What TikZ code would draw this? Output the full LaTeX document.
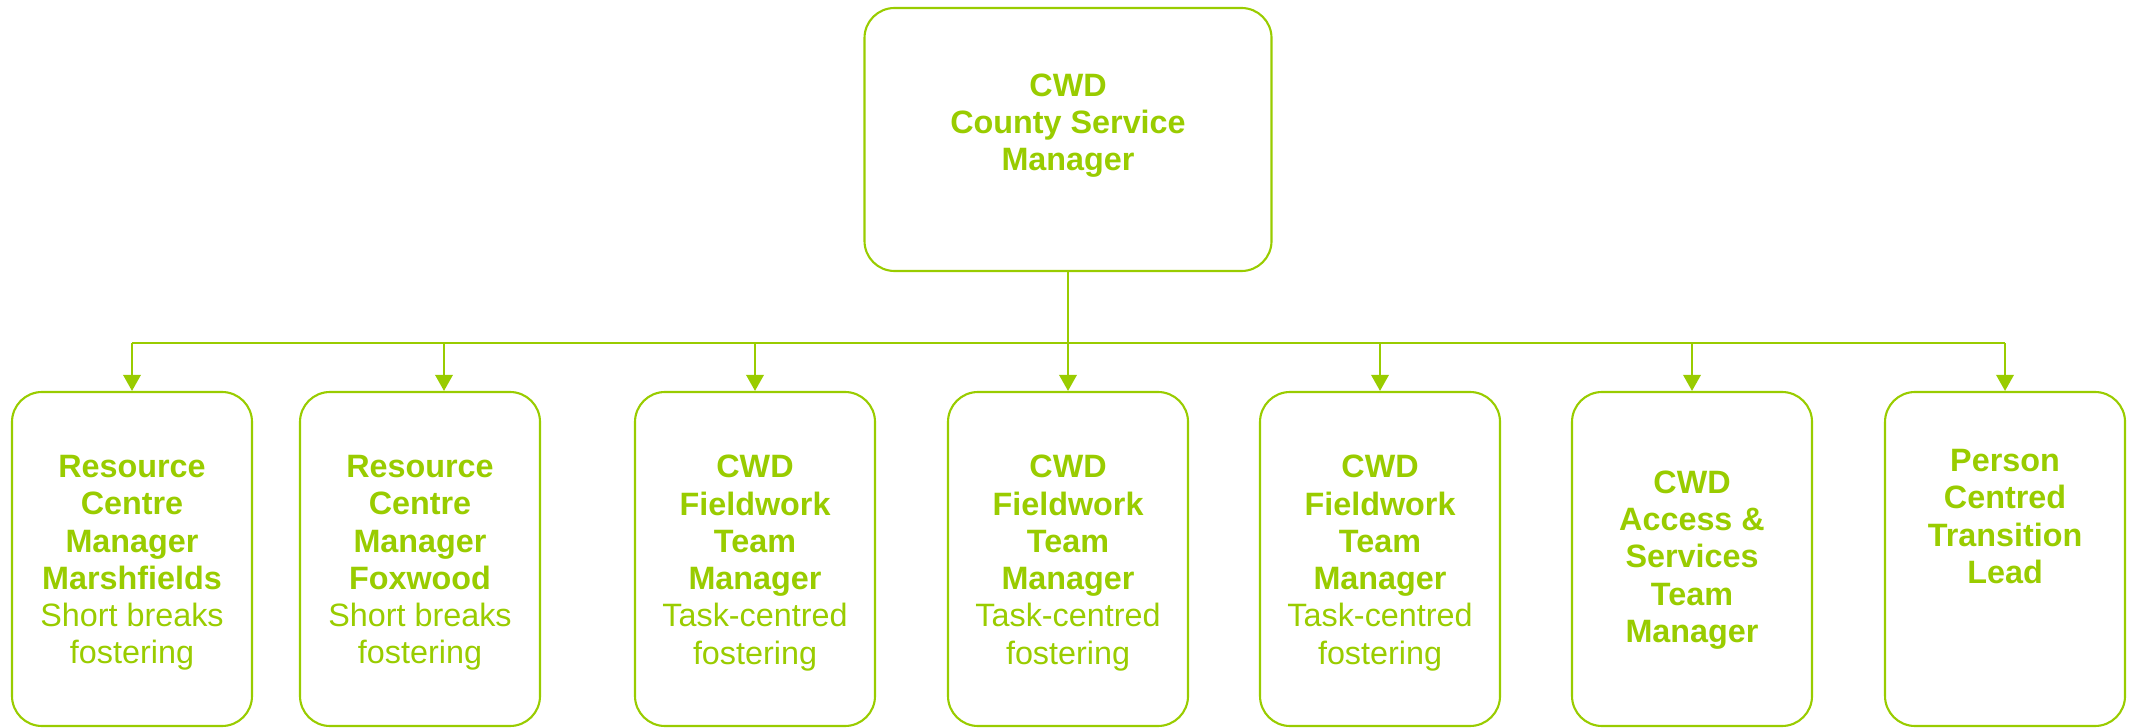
\documentclass[tikz,border=0pt]{standalone}
\usepackage{fontspec}
\setmainfont{Liberation Sans}
\usetikzlibrary{positioning, arrows.meta, calc}
\definecolor{cwdgreen}{RGB}{153,204,0}

\begin{document}
\begin{tikzpicture}[
    >={Triangle[width=5pt,length=4.6pt]},
    line width=0.6pt,
    head/.style={rectangle, rounded corners=0.3cm, draw=cwdgreen, minimum width=4.07cm, minimum height=2.63cm},
    post/.style={rectangle, rounded corners=0.3cm, draw=cwdgreen, minimum width=2.4cm, minimum height=3.34cm},
    role/.style={align=center, text=cwdgreen, font=\fontsize{9.2}{10.6}\selectfont\bfseries},
    link/.style={draw=cwdgreen}
]
    \useasboundingbox (0,0) rectangle (21.34,-7.28);
    % --- 1. Service manager (top) ---
    \node (csm) [head] at (10.68,-1.395) {};
    \node (csm_text) [role] at ($(csm)+(0,0.14)$) {CWD\\County Service\\Manager};
    % --- 2. Team boxes (bottom row) ---
    \node (rcm_marsh) [post] at (1.32,-5.59) {};
    \node (rcm_fox) [post] at (4.20,-5.59) {};
    \node (fw_a) [post] at (7.55,-5.59) {};
    \node (fw_b) [post] at (10.68,-5.59) {};
    \node (fw_c) [post] at (13.80,-5.59) {};
    \node (access) [post] at (16.92,-5.59) {};
    \node (pctl) [post] at (20.05,-5.59) {};
    % texts inside the boxes
    \node (rcm_marsh_text) [role] at ($(rcm_marsh)+(0,-0.04)$) {Resource\\Centre\\Manager\\Marshfields\\\mdseries Short breaks\\\mdseries fostering};
    \node (rcm_fox_text) [role] at ($(rcm_fox)+(0,-0.04)$) {Resource\\Centre\\Manager\\Foxwood\\\mdseries Short breaks\\\mdseries fostering};
    \node (fw_a_text) [role] at ($(fw_a)+(0,-0.04)$) {CWD\\Fieldwork\\Team\\Manager\\\mdseries Task-centred\\\mdseries fostering};
    \node (fw_b_text) [role] at ($(fw_b)+(0,-0.04)$) {CWD\\Fieldwork\\Team\\Manager\\\mdseries Task-centred\\\mdseries fostering};
    \node (fw_c_text) [role] at ($(fw_c)+(0,-0.04)$) {CWD\\Fieldwork\\Team\\Manager\\\mdseries Task-centred\\\mdseries fostering};
    \node (access_text) [role] at ($(access)+(0,-0.01)$) {CWD\\Access \&\\Services\\Team\\Manager};
    \node (pctl_text) [role] at ($(pctl)+(0,0.425)$) {Person\\Centred\\Transition\\Lead};
    % --- 3. Connectors ---
    \coordinate (bus) at (0,-3.43);
    \coordinate (fox_in) at ($(rcm_fox.north)+(0.24,0)$);
    \draw[link] (csm.south) -- (csm.south |- bus);
    \draw[link] (rcm_marsh.north |- bus) -- (pctl.north |- bus);
    \draw[link, ->] (rcm_marsh.north |- bus) -- (rcm_marsh.north);
    \draw[link, ->] (fox_in |- bus) -- (fox_in);
    \draw[link, ->] (fw_a.north |- bus) -- (fw_a.north);
    \draw[link, ->] (fw_b.north |- bus) -- (fw_b.north);
    \draw[link, ->] (fw_c.north |- bus) -- (fw_c.north);
    \draw[link, ->] (access.north |- bus) -- (access.north);
    \draw[link, ->] (pctl.north |- bus) -- (pctl.north);
\end{tikzpicture}
\end{document}
